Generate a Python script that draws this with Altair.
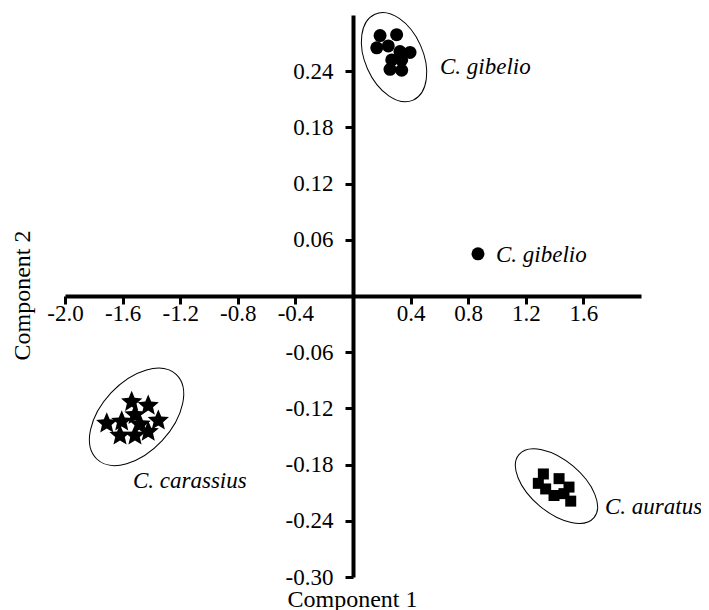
import math
import altair as alt
import pandas as pd

# ---- data ----
# C. gibelio cluster (filled circles)
gib_x = [0.188, 0.303, 0.165, 0.245, 0.326, 0.396, 0.338, 0.269, 0.257, 0.338]
gib_y = [0.278, 0.279, 0.265, 0.267, 0.261, 0.260, 0.252, 0.252, 0.242, 0.241]
# single C. gibelio point
gib2_x = [0.868]
gib2_y = [0.045]
# C. carassius cluster (stars)
car_x = [-1.537, -1.422, -1.710, -1.606, -1.514, -1.352, -1.618, -1.514, -1.422, -1.479]
car_y = [-0.113, -0.117, -0.136, -0.134, -0.127, -0.133, -0.149, -0.149, -0.145, -0.137]
# C. auratus cluster (squares)
aur_x = [1.322, 1.431, 1.287, 1.338, 1.500, 1.396, 1.465, 1.512]
aur_y = [-0.190, -0.195, -0.200, -0.206, -0.204, -0.213, -0.211, -0.219]
# ellipse centres (gibelio, carassius, auratus)
ell_x = [0.285, -1.503, 1.413]
ell_y = [0.255, -0.129, -0.203]
# species labels
lab_text = ["C. gibelio", "C. gibelio", "C. carassius", "C. auratus"]
lab_x = [0.604, 0.993, -1.528, 1.750]
lab_y = [0.245, 0.044, -0.197, -0.225]
# axis ticks
x_ticks = [-2.0, -1.6, -1.2, -0.8, -0.4, 0.4, 0.8, 1.2, 1.6]
y_ticks = [0.24, 0.18, 0.12, 0.06, -0.06, -0.12, -0.18, -0.24, -0.30]

FONT = "Liberation Serif"
W, H = 576, 562

xscale = alt.Scale(domain=[-2.0, 2.0], nice=False, zero=False)
yscale = alt.Scale(domain=[-0.30, 0.30], nice=False, zero=False)

common_axis = dict(
    grid=False, domainColor="black", domainWidth=4, tickColor="black",
    tickWidth=3, tickSize=8, labelFont=FONT, labelFontSize=23,
    labelColor="black", labelFlush=False, labelOverlap=False,
    titleFont=FONT, titleFontSize=24, titleFontWeight="normal",
    titleColor="black", titleAlign="center", titleBaseline="middle",
)

x_axis = alt.Axis(
    values=x_ticks, orient="bottom", offset=-281, labelPadding=-2,
    labelExpr="(datum.value < 0 ? '-' : '') + format(abs(datum.value), '.1f')",
    title="Component 1", titleX=287, titleY=303, **common_axis,
)
y_axis = alt.Axis(
    values=y_ticks, orient="left", offset=-288, labelPadding=12,
    labelExpr="(datum.value < 0 ? '-' : '') + format(abs(datum.value), '.2f')",
    title="Component 2", titleAngle=270, titleX=-331, titleY=280, **common_axis,
)

X = alt.X("x:Q", scale=xscale, axis=x_axis)
Y = alt.Y("y:Q", scale=yscale, axis=y_axis)


def ellipse_path(r):
    k = 0.5523
    return (
        f"M0,-1C{k*r:.4f},-1 {r:.4f},{-k:.4f} {r:.4f},0"
        f"C{r:.4f},{k:.4f} {k*r:.4f},1 0,1"
        f"C{-k*r:.4f},1 {-r:.4f},{k:.4f} {-r:.4f},0"
        f"C{-r:.4f},{-k:.4f} {-k*r:.4f},-1 0,-1Z"
    )


def star_path(inner=0.45):
    pts = []
    for i in range(10):
        a = math.radians(-90 + 36 * i)
        r = 1.0 if i % 2 == 0 else inner
        pts.append(f"{r*math.cos(a):.4f},{r*math.sin(a):.4f}")
    return "M" + "L".join(pts) + "Z"


df_gib = pd.DataFrame({"x": gib_x, "y": gib_y})
df_gib2 = pd.DataFrame({"x": gib2_x, "y": gib2_y})
df_car = pd.DataFrame({"x": car_x, "y": car_y})
df_aur = pd.DataFrame({"x": aur_x, "y": aur_y})
df_lab = pd.DataFrame({"x": lab_x, "y": lab_y, "t": lab_text})

ell_specs = [
    (0, 29 / 47, 94 ** 2, 336),
    (1, 35 / 58, 116 ** 2, 43),
    (2, 26 / 49, 98 ** 2, 310),
]
ell_layers = []
for i, ratio, size, ang in ell_specs:
    d = pd.DataFrame({"x": [ell_x[i]], "y": [ell_y[i]]})
    ell_layers.append(
        alt.Chart(d).mark_point(
            shape=ellipse_path(ratio), size=size, angle=ang, filled=False,
            stroke="black", strokeWidth=1, opacity=1,
        ).encode(x=X, y=Y)
    )

circles = alt.Chart(df_gib).mark_point(
    shape="circle", filled=True, color="black", size=169, opacity=1
).encode(x=X, y=Y)
circle2 = alt.Chart(df_gib2).mark_point(
    shape="circle", filled=True, color="black", size=169, opacity=1
).encode(x=X, y=Y)
stars = alt.Chart(df_car).mark_point(
    shape=star_path(), filled=True, color="black", size=500, opacity=1
).encode(x=X, y=Y)
squares = alt.Chart(df_aur).mark_point(
    shape="square", filled=True, color="black", size=121, opacity=1
).encode(x=X, y=Y)
labels = alt.Chart(df_lab).mark_text(
    align="left", baseline="middle", font=FONT, fontStyle="italic",
    fontSize=23, color="black",
).encode(x=X, y=Y, text="t:N")

chart = alt.layer(*ell_layers, circles, circle2, stars, squares, labels).properties(
    width=W, height=H,
    background="white",
    autosize=alt.AutoSizeParams(type="none"),
    padding={"left": 57, "top": 7, "right": 60, "bottom": 36},
).configure_view(stroke=None)

chart.save("out.html", embed_options={"renderer": "svg", "actions": False})
